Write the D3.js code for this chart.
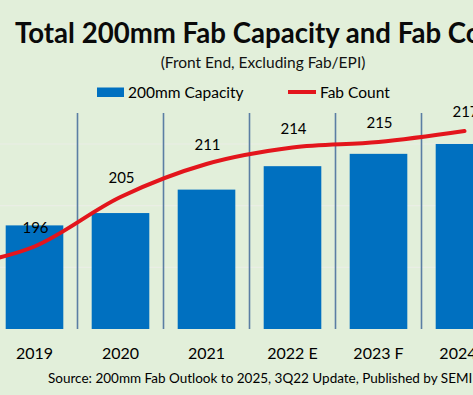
<!DOCTYPE html>
<html>
<head>
<meta charset="utf-8">
<script src="https://cdn.jsdelivr.net/npm/d3@7"></script>
<style>
  html, body { margin: 0; padding: 0; background: #e2efda; overflow: hidden; }
  svg { display: block; font-family: Lato, "Open Sans", sans-serif; }
</style>
</head>
<body>
<svg id="chart" width="473" height="395"></svg>
<script>
// ---- data ----
const categories = ["2018", "2019", "2020", "2021", "2022 E", "2023 F", "2024 F"];
const capacity   = [null, 5.84, 5.94, 6.13, 6.32, 6.42, 6.50];   // 200mm capacity (M wafers/month, est.)
const fabCount   = [192, 196, 205, 211, 214, 215, 217];
const fabLabels  = [null, "196", "205", "211", "214", "215", "217"];
const capacityTicks = [5.5, 6.0, 6.5];
const titleText    = "Total 200mm Fab Capacity and Fab Count";
const subtitleText = "(Front End, Excluding Fab/EPI)";
const sourceText   = "Source: 200mm Fab Outlook to 2025, 3Q22 Update, Published by SEMI";
const legendItems  = ["200mm Capacity", "Fab Count"];

// ---- setup ----
const W = 473, H = 395;
const svg = d3.select("#chart");
svg.append("rect").attr("width", W).attr("height", H).attr("fill", "#e2efda");

const baseY = 329;
const x = d3.scaleBand().domain(categories).range([-94.5, 507.5])
  .paddingInner(0.33).paddingOuter(0.165);
const yCap = d3.scaleLinear().domain([5.0, 7.0]).range([baseY, 82.3]);
const yFab = d3.scaleLinear().domain([180, 230]).range([334.5, 59.5]);

// gridlines
svg.append("g").selectAll("line").data(capacityTicks).join("line")
  .attr("x1", 0).attr("x2", W)
  .attr("y1", d => yCap(d)).attr("y2", d => yCap(d))
  .attr("stroke", "#eaeee5").attr("stroke-width", 1.2);

// bars
const barData = categories.map((c, i) => ({c, v: capacity[i]})).filter(d => d.v != null);
svg.append("g").selectAll("rect").data(barData).join("rect")
  .attr("x", d => x(d.c)).attr("width", x.bandwidth())
  .attr("y", d => yCap(d.v)).attr("height", d => baseY - yCap(d.v))
  .attr("fill", "#0070c0");

// separators between categories
const seps = categories.slice(0, -1).map(c => x(c) + x.bandwidth() / 2 + x.step() / 2);
svg.append("g").selectAll("line").data(seps).join("line")
  .attr("x1", d => d).attr("x2", d => d)
  .attr("y1", 113).attr("y2", baseY)
  .attr("stroke", "#5b7ea3").attr("stroke-width", 1.6);

// fab count line
const lineData = categories.map((c, i) => ({c, v: fabCount[i]}));
const line = d3.line()
  .x(d => x(d.c) + x.bandwidth() / 2)
  .y(d => yFab(d.v))
  .curve(d3.curveCardinal.tension(0));
svg.append("path").datum(lineData)
  .attr("d", line).attr("fill", "none")
  .attr("stroke", "#e3151c").attr("stroke-width", 4).attr("stroke-linecap", "round");

// data labels
svg.append("g").selectAll("text").data(lineData.map((d, i) => ({...d, t: fabLabels[i]})).filter(d => d.t))
  .join("text")
  .attr("x", d => x(d.c) + x.bandwidth() / 2 + 1)
  .attr("y", d => yFab(d.v) - 14)
  .attr("text-anchor", "middle").attr("font-size", 15).attr("fill", "#000")
  .text(d => d.t);

// category labels (only categories with a bar)
svg.append("g").selectAll("text").data(barData).join("text")
  .attr("x", d => x(d.c) + x.bandwidth() / 2)
  .attr("y", 359)
  .attr("text-anchor", "middle").attr("font-size", 16).attr("fill", "#000")
  .text(d => d.c);

// title & subtitle
svg.append("text").attr("x", 15).attr("y", 43)
  .attr("font-size", 27.6).attr("font-weight", 700).attr("fill", "#0a0a0a")
  .text(titleText);
svg.append("text").attr("x", 263).attr("y", 68)
  .attr("text-anchor", "middle").attr("font-size", 15.5).attr("fill", "#111")
  .text(subtitleText);

// legend
const lg = svg.append("g");
lg.append("rect").attr("x", 97).attr("y", 87.5).attr("width", 27).attr("height", 9.5).attr("fill", "#0070c0");
lg.append("text").attr("x", 128).attr("y", 97.5).attr("font-size", 15.5).attr("fill", "#000").text(legendItems[0]);
lg.append("line").attr("x1", 288).attr("x2", 316).attr("y1", 92).attr("y2", 92)
  .attr("stroke", "#e3151c").attr("stroke-width", 4);
lg.append("text").attr("x", 320).attr("y", 97.5).attr("font-size", 15.5).attr("fill", "#000").text(legendItems[1]);

// source
svg.append("text").attr("x", 48).attr("y", 383)
  .attr("font-size", 13.5).attr("fill", "#000")
  .text(sourceText);
</script>
</body>
</html>
